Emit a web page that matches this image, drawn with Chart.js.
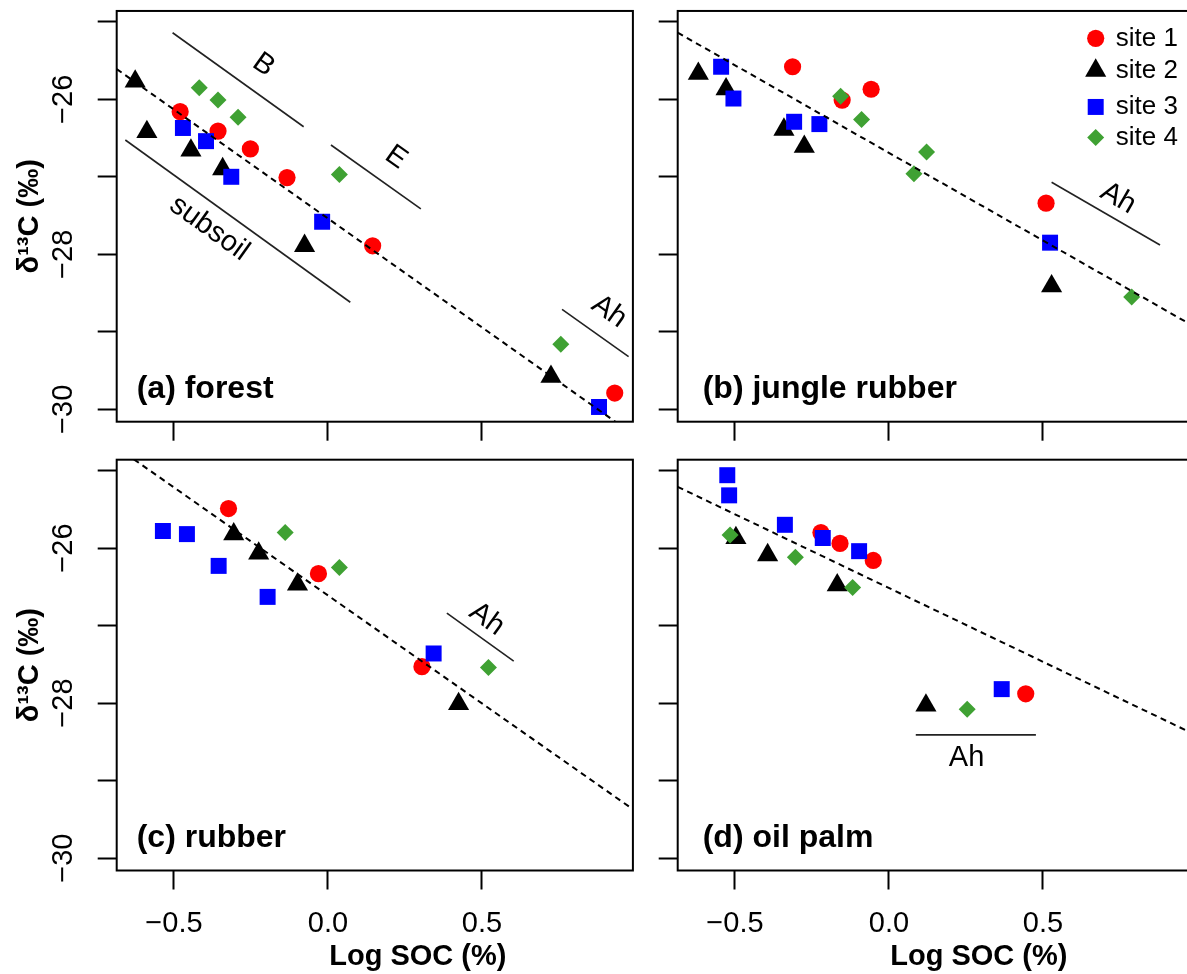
<!DOCTYPE html>
<html>
<head>
<meta charset="utf-8">
<script src="https://cdn.jsdelivr.net/npm/chart.js@4.4.1/dist/chart.umd.min.js"></script>
<style>
html,body{margin:0;padding:0;background:#fff;overflow:hidden;width:1187px;height:974px;}
#wrap{position:relative;width:1187px;height:974px;overflow:hidden;background:#fff;}
canvas{position:absolute;}
</style>
</head>
<body>
<div id="wrap">
<canvas id="cA" width="650" height="445" style="left:0px;top:0px"></canvas>
<canvas id="cB" width="560" height="445" style="left:650px;top:0px"></canvas>
<canvas id="cC" width="650" height="529" style="left:0px;top:445px"></canvas>
<canvas id="cD" width="560" height="529" style="left:650px;top:445px"></canvas>
</div>
<script>
// ---------- axes ----------
const xTickValues = [-0.5, 0, 0.5];
const xTickLabels = ['\u22120.5', '0.0', '0.5'];
const yTickValues = [-30, -29, -28, -27, -26, -25];
const yTickLabels = ['\u221230', '', '\u221228', '', '\u221226', ''];
const xRange = [-0.686, 0.99];
const yRange = [-30.16, -24.86];
const xAxisTitle = 'Log SOC (%)';
const yAxisTitle = '\u03b4\u00b9\u00b3C (\u2030)';

// ---------- series ----------
const siteNames = ['site 1', 'site 2', 'site 3', 'site 4'];

// (a) forest  [log SOC, d13C]
const forestSite1 = [[-0.480,-26.16],[-0.357,-26.41],[-0.252,-26.64],[-0.133,-27.01],[0.145,-27.89],[0.931,-29.79]];
const forestSite2 = [[-0.626,-25.77],[-0.588,-26.42],[-0.445,-26.66],[-0.342,-26.90],[-0.076,-27.89],[0.724,-29.58]];
const forestSite3 = [[-0.471,-26.37],[-0.396,-26.54],[-0.314,-27.00],[-0.019,-27.58],[0.880,-29.97]];
const forestSite4 = [[-0.418,-25.85],[-0.357,-26.01],[-0.292,-26.23],[0.037,-26.97],[0.756,-29.16]];
const forestFit = [[-0.686,-25.61],[0.99,-30.32]];
const forestSegB = [[-0.5045,-25.141],[-0.079,-26.354]];
const forestSegE = [[0.0097,-26.59],[0.3015,-27.415]];
const forestSegSubsoil = [[-0.658,-26.525],[0.0724,-28.619]];
const forestSegAh = [[0.760,-28.71],[0.976,-29.32]];
const forestNoteText = ['B', 'E', 'subsoil', 'Ah'];
const forestNoteAt = [[-0.209,-25.557],[0.221,-26.748],[-0.385,-27.665],[0.913,-28.74]];

// (b) jungle rubber
const jungleSite1 = [[-0.313,-25.58],[-0.152,-26.01],[-0.058,-25.87],[0.510,-27.34]];
const jungleSite2 = [[-0.619,-25.67],[-0.529,-25.87],[-0.341,-26.39],[-0.275,-26.61],[0.528,-28.41]];
const jungleSite3 = [[-0.545,-25.58],[-0.505,-25.99],[-0.308,-26.29],[-0.226,-26.32],[0.523,-27.85]];
const jungleSite4 = [[-0.157,-25.96],[-0.089,-26.26],[0.122,-26.68],[0.081,-26.96],[0.788,-28.55]];
const jungleFit = [[-0.686,-25.14],[0.99,-28.93]];
const jungleSegAh = [[0.528,-27.071],[0.880,-27.88]];
const jungleNoteText = ['Ah'];
const jungleNoteAt = [[0.744,-27.278]];

// (c) rubber
const rubberSite1 = [[-0.323,-25.49],[-0.031,-26.33],[0.305,-27.53]];
const rubberSite2 = [[-0.306,-25.82],[-0.225,-26.07],[-0.099,-26.47],[0.424,-28.01]];
const rubberSite3 = [[-0.536,-25.78],[-0.458,-25.82],[-0.355,-26.23],[-0.196,-26.63],[0.343,-27.36]];
const rubberSite4 = [[-0.139,-25.80],[0.037,-26.25],[0.521,-27.54]];
const rubberFit = [[-0.686,-24.70],[0.99,-29.37]];
const rubberSegAh = [[0.386,-26.84],[0.603,-27.46]];
const rubberNoteText = ['Ah'];
const rubberNoteAt = [[0.516,-26.918]];

// (d) oil palm
const palmSite1 = [[-0.221,-25.80],[-0.159,-25.94],[-0.051,-26.16],[0.444,-27.88]];
const palmSite2 = [[-0.497,-25.87],[-0.394,-26.09],[-0.168,-26.48],[0.120,-28.03]];
const palmSite3 = [[-0.525,-25.06],[-0.519,-25.32],[-0.338,-25.70],[-0.215,-25.87],[-0.097,-26.04],[0.366,-27.82]];
const palmSite4 = [[-0.516,-25.83],[-0.304,-26.12],[-0.118,-26.51],[0.254,-28.08]];
const palmFit = [[-0.686,-25.21],[0.99,-28.40]];
const palmSegAh = [[0.087,-28.41],[0.477,-28.41]];
const palmNoteText = ['Ah'];
const palmNoteAt = [[0.252,-28.709]];

// ---------- styles ----------
const FONT = '"Liberation Sans", Arial, Helvetica, sans-serif';
const siteColors = ['#ff0000', '#000000', '#0000ff', '#3fa133'];
const siteShapes = ['circle', 'triangle', 'rect', 'rectRot'];
const siteRadii = [8.6, 12.2, 11.3, 8.5];
const legendRows = [27.4, 59.6, 96.0, 126.6];

Chart.defaults.font.family = FONT;
Chart.defaults.color = '#000';

function toXY(arr) { return arr.map(p => ({x: p[0], y: p[1]})); }

function shape(ctx, style, r, x, y) {
  if (Chart.helpers && Chart.helpers.drawPoint) {
    Chart.helpers.drawPoint(ctx, {pointStyle: style, radius: r, rotation: 0, borderWidth: 0}, x, y);
    return;
  }
  ctx.beginPath();
  if (style === 'circle') ctx.arc(x, y, r, 0, Math.PI * 2);
  else if (style === 'triangle') {
    for (let k = 0; k < 3; k++) {
      const a = k * 2 * Math.PI / 3;
      const px = x + Math.sin(a) * r, py = y - Math.cos(a) * r;
      k ? ctx.lineTo(px, py) : ctx.moveTo(px, py);
    }
    ctx.closePath();
  } else if (style === 'rect') {
    const s = r * Math.SQRT1_2; ctx.rect(x - s, y - s, 2 * s, 2 * s);
  } else {
    ctx.moveTo(x - r, y); ctx.lineTo(x, y - r); ctx.lineTo(x + r, y); ctx.lineTo(x, y + r); ctx.closePath();
  }
  ctx.fill();
}

function decorPlugin(cfg) {
  return {
    id: 'decor',
    afterDatasetsDraw(chart) {
      const {ctx, chartArea: ca, scales: {x, y}} = chart;
      ctx.save();
      ctx.strokeStyle = '#000';
      ctx.lineWidth = 2;
      ctx.strokeRect(ca.left, ca.top, ca.right - ca.left, ca.bottom - ca.top);
      // horizon labels along their segments
      ctx.fillStyle = '#000';
      ctx.font = '29px ' + FONT;
      ctx.textAlign = 'center';
      ctx.textBaseline = 'middle';
      cfg.noteText.forEach((t, i) => {
        const seg = cfg.segs[i];
        const ang = Math.atan2(
          y.getPixelForValue(seg[1][1]) - y.getPixelForValue(seg[0][1]),
          x.getPixelForValue(seg[1][0]) - x.getPixelForValue(seg[0][0]));
        ctx.save();
        ctx.translate(x.getPixelForValue(cfg.noteAt[i][0]), y.getPixelForValue(cfg.noteAt[i][1]));
        ctx.rotate(ang);
        ctx.fillText(t, 0, 0);
        ctx.restore();
      });
      // x axis title (offset to the right as in the original)
      if (cfg.showX) {
        ctx.font = 'bold 29px ' + FONT;
        ctx.textAlign = 'center';
        ctx.textBaseline = 'middle';
        ctx.fillText(xAxisTitle, (ca.left + ca.right) / 2 + 43, ca.bottom + 86);
      }
      // panel title
      ctx.font = 'bold 32px ' + FONT;
      ctx.textAlign = 'left';
      ctx.textBaseline = 'alphabetic';
      ctx.fillText(cfg.title, ca.left + cfg.titleDx, ca.bottom - 24);
      // legend
      if (cfg.legend) {
        siteNames.forEach((name, i) => {
          const cy = ca.top + legendRows[i];
          ctx.fillStyle = siteColors[i];
          shape(ctx, siteShapes[i], siteRadii[i], ca.left + 418, cy);
          ctx.fillStyle = '#000';
          ctx.font = '26px ' + FONT;
          ctx.textAlign = 'left';
          ctx.textBaseline = 'middle';
          ctx.fillText(name, ca.left + 438, cy);
        });
      }
      ctx.restore();
    }
  };
}

function makePanel(cfg) {
  const datasets = cfg.sites.map((pts, i) => ({
    label: siteNames[i],
    data: toXY(pts),
    pointStyle: siteShapes[i],
    pointRadius: siteRadii[i],
    pointHoverRadius: siteRadii[i],
    backgroundColor: siteColors[i],
    borderColor: siteColors[i],
    pointBorderWidth: 0,
    borderWidth: 0,
    showLine: false,
    clip: false,
    order: 5 - i
  }));
  datasets.push({
    label: 'fit', data: toXY(cfg.fit), showLine: true, borderColor: '#000', borderWidth: 2,
    borderDash: [6, 4.5], pointRadius: 0, pointHoverRadius: 0, clip: 0, order: 0
  });
  cfg.segs.forEach(s => datasets.push({
    label: 'seg', data: toXY(s), showLine: true, borderColor: '#222', borderWidth: 1.6,
    pointRadius: 0, pointHoverRadius: 0, clip: false, order: 0
  }));

  new Chart(document.getElementById(cfg.canvas), {
    type: 'scatter',
    data: {datasets},
    options: {
      responsive: false,
      animation: false,
      events: [],
      layout: {padding: cfg.pad, autoPadding: false},
      plugins: {legend: {display: false}, tooltip: {enabled: false}},
      scales: {
        x: {
          type: 'linear', min: xRange[0], max: xRange[1],
          afterBuildTicks: s => { s.ticks = xTickValues.map(v => ({value: v})); },
          ticks: {display: cfg.showX, autoSkip: false, minRotation: 0, maxRotation: 0, padding: 16.7,
                  font: {size: 29}, color: '#000', callback: (v, i) => xTickLabels[i]},
          grid: {display: true, drawOnChartArea: false, drawTicks: true, tickLength: 19, tickWidth: 2, tickColor: '#000'},
          border: {display: false},
          title: {display: false},
          afterFit: s => { s.height = cfg.xH; s.paddingLeft = 0; s.paddingRight = 0; s.paddingTop = 0; s.paddingBottom = 0; }
        },
        y: {
          type: 'linear', min: yRange[0], max: yRange[1],
          afterBuildTicks: s => { s.ticks = yTickValues.map(v => ({value: v})); },
          ticks: {display: cfg.showY, autoSkip: false, minRotation: 90, maxRotation: 90, crossAlign: 'center', padding: 9,
                  font: {size: 29}, color: '#000', callback: (v, i) => yTickLabels[i]},
          grid: {display: true, drawOnChartArea: false, drawTicks: true, tickLength: 19, tickWidth: 2, tickColor: '#000'},
          border: {display: false},
          title: {display: cfg.showY, text: yAxisTitle, color: '#000', font: {size: 29, weight: 'bold'}, padding: {top: 5.9, bottom: 0}},
          afterFit: s => { s.width = cfg.yW; s.paddingLeft = 0; s.paddingRight = 0; s.paddingTop = 0; s.paddingBottom = 0; }
        }
      }
    },
    plugins: [decorPlugin(cfg)]
  });
}

makePanel({canvas: 'cA', title: '(a) forest', titleDx: 20,
  sites: [forestSite1, forestSite2, forestSite3, forestSite4], fit: forestFit,
  segs: [forestSegB, forestSegE, forestSegSubsoil, forestSegAh], noteText: forestNoteText, noteAt: forestNoteAt,
  showX: false, showY: true, legend: false, pad: {left: 6.7, right: 17.1, top: 10.95, bottom: 3.3}, yW: 110, xH: 20});
makePanel({canvas: 'cB', title: '(b) jungle rubber', titleDx: 25,
  sites: [jungleSite1, jungleSite2, jungleSite3, jungleSite4], fit: jungleFit,
  segs: [jungleSegAh], noteText: jungleNoteText, noteAt: jungleNoteAt,
  showX: false, showY: false, legend: true, pad: {left: 2, right: 16.1, top: 10.95, bottom: 3.3}, yW: 25.7, xH: 20});
makePanel({canvas: 'cC', title: '(c) rubber', titleDx: 20,
  sites: [rubberSite1, rubberSite2, rubberSite3, rubberSite4], fit: rubberFit,
  segs: [rubberSegAh], noteText: rubberNoteText, noteAt: rubberNoteAt,
  showX: true, showY: true, legend: false, pad: {left: 6.7, right: 17.1, top: 14.7, bottom: 0}, yW: 110, xH: 103.5});
makePanel({canvas: 'cD', title: '(d) oil palm', titleDx: 25,
  sites: [palmSite1, palmSite2, palmSite3, palmSite4], fit: palmFit,
  segs: [palmSegAh], noteText: palmNoteText, noteAt: palmNoteAt,
  showX: true, showY: false, legend: false, pad: {left: 2, right: 16.1, top: 14.7, bottom: 0}, yW: 25.7, xH: 103.5});
</script>
</body>
</html>
